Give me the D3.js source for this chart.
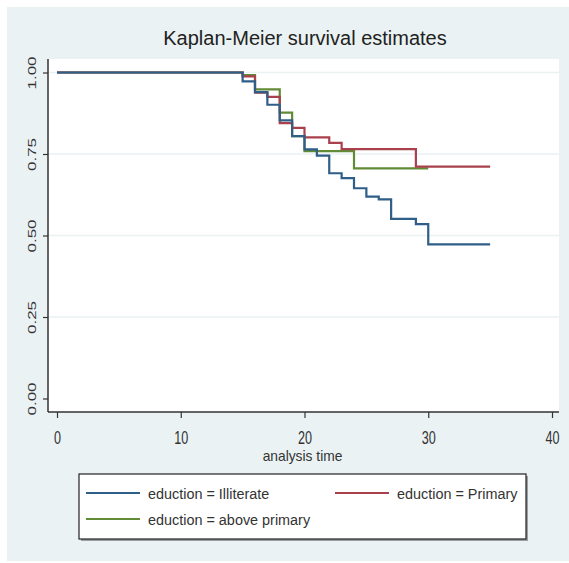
<!DOCTYPE html>
<html>
<head>
<meta charset="utf-8">
<script src="https://cdn.jsdelivr.net/npm/d3@7"></script>
<style>
  body { margin: 0; background: #ffffff; }
  text { font-family: "Liberation Sans", Arial, sans-serif; fill: #222; }
</style>
</head>
<body>
<div id="chart"></div>
<script>
// Kaplan-Meier step data
const illiterateTime = [0, 15, 16, 17, 18, 19, 20, 21, 22, 23, 24, 25, 26, 27, 29, 30, 35];
const illiterateSurv = [1, 0.973, 0.94, 0.901, 0.853, 0.805, 0.764, 0.745, 0.691, 0.676, 0.645, 0.619, 0.611, 0.551, 0.535, 0.473, 0.473];

const primaryTime = [0, 15, 16, 17, 18, 19, 20, 22, 23, 29, 35];
const primarySurv = [1, 0.988, 0.938, 0.925, 0.845, 0.830, 0.801, 0.784, 0.765, 0.711, 0.711];

const aboveTime = [0, 15, 16, 18, 19, 20, 24, 30];
const aboveSurv = [1, 0.992, 0.948, 0.877, 0.805, 0.759, 0.706, 0.706];

const xTicks = [0, 10, 20, 30, 40];
const yTicks = [0, 0.25, 0.5, 0.75, 1];
const legendLabels = ["eduction = Illiterate", "eduction = Primary", "eduction = above primary"];
const colors = ["#2f5e88", "#a8414b", "#628b36"];

const W = 569, H = 563;

const svg = d3.select("#chart").append("svg")
  .attr("width", W)
  .attr("height", H);

// graph region background
svg.append("rect")
  .attr("x", 7).attr("y", 7)
  .attr("width", W - 7).attr("height", 554)
  .attr("fill", "#eaf2f3");

// plot region
const plot = { left: 48, right: 559, top: 59, bottom: 412 };
svg.append("rect")
  .attr("x", plot.left).attr("y", plot.top)
  .attr("width", plot.right - plot.left).attr("height", plot.bottom - plot.top)
  .attr("fill", "#ffffff");

const x = d3.scaleLinear().domain([0, 40]).range([57, 552]);
const y = d3.scaleLinear().domain([0, 1]).range([398.5, 72.5]);

// grid lines
svg.append("g")
  .selectAll("line")
  .data(yTicks.filter(d => d > 0))
  .enter().append("line")
  .attr("x1", plot.left).attr("x2", plot.right)
  .attr("y1", d => y(d)).attr("y2", d => y(d))
  .attr("stroke", "#eaf2f3")
  .attr("stroke-width", 1.5);

// title
svg.append("text")
  .attr("x", 305).attr("y", 45)
  .attr("text-anchor", "middle")
  .style("font-size", "20px")
  .text("Kaplan-Meier survival estimates");

// y axis (labels tall and narrow, like the squeezed original)
const yAxis = svg.append("g")
  .attr("transform", `translate(${plot.left},0)`)
  .call(d3.axisLeft(y).tickValues(yTicks).tickSize(5).tickFormat(d3.format(".2f")));
yAxis.select(".domain").remove();
yAxis.append("line")
  .attr("x1", 0).attr("x2", 0)
  .attr("y1", plot.top).attr("y2", plot.bottom)
  .attr("stroke", "#333").attr("stroke-width", 1.5);
yAxis.selectAll(".tick line").attr("stroke", "#333").attr("stroke-width", 1.2);
yAxis.selectAll(".tick text")
  .attr("x", 0).attr("y", 0).attr("dy", null)
  .attr("transform", "translate(-16,0) rotate(-90) scale(1,0.68)")
  .attr("text-anchor", "middle")
  .attr("dominant-baseline", "central")
  .style("font-size", "17px")
  .style("fill", "#333");

// x axis
const xAxis = svg.append("g")
  .attr("transform", `translate(0,${plot.bottom})`)
  .call(d3.axisBottom(x).tickValues(xTicks).tickSize(6));
xAxis.select(".domain").remove();
xAxis.append("line")
  .attr("x1", plot.left).attr("x2", plot.right)
  .attr("y1", 0).attr("y2", 0)
  .attr("stroke", "#333").attr("stroke-width", 1.5);
xAxis.selectAll(".tick line").attr("stroke", "#333").attr("stroke-width", 1.2);
xAxis.selectAll(".tick text")
  .attr("y", 0).attr("dy", null)
  .attr("transform", "translate(0,32) scale(0.7,1)")
  .style("font-size", "18px")
  .style("fill", "#333");

svg.append("text")
  .attr("transform", `translate(${x(20) - 2},461) scale(0.92,1)`)
  .attr("text-anchor", "middle")
  .style("font-size", "15px")
  .style("fill", "#333")
  .text("analysis time");

// survival curves
const series = [
  { t: illiterateTime, s: illiterateSurv },
  { t: primaryTime, s: primarySurv },
  { t: aboveTime, s: aboveSurv }
];
const line = d3.line()
  .x(d => x(d[0]))
  .y(d => y(d[1]))
  .curve(d3.curveStepAfter);

// green first, then red, then blue on top
[2, 1, 0].forEach(i => {
  const pts = series[i].t.map((t, j) => [t, series[i].s[j]]);
  svg.append("path")
    .datum(pts)
    .attr("fill", "none")
    .attr("stroke", colors[i])
    .attr("stroke-width", 2.2)
    .attr("d", line);
});

// legend
const lg = svg.append("g");
lg.append("rect")
  .attr("x", 81).attr("y", 476)
  .attr("width", 447).attr("height", 65)
  .attr("fill", "#9aa0a3");
lg.append("rect")
  .attr("x", 79).attr("y", 474)
  .attr("width", 447).attr("height", 65)
  .attr("fill", "#ffffff")
  .attr("stroke", "#222")
  .attr("stroke-width", 1.2);

const legendPos = [
  { lx: 86, ty: 493 },
  { lx: 335, ty: 493 },
  { lx: 86, ty: 519 }
];
legendLabels.forEach((lab, i) => {
  const p = legendPos[i];
  lg.append("line")
    .attr("x1", p.lx).attr("x2", p.lx + 54)
    .attr("y1", p.ty).attr("y2", p.ty)
    .attr("stroke", colors[i]).attr("stroke-width", 2.2);
  lg.append("text")
    .attr("transform", `translate(${p.lx + 62},${p.ty}) scale(0.93,1)`)
    .attr("dominant-baseline", "central")
    .style("font-size", "15.5px")
    .style("fill", "#333")
    .text(lab);
});
</script>
</body>
</html>
